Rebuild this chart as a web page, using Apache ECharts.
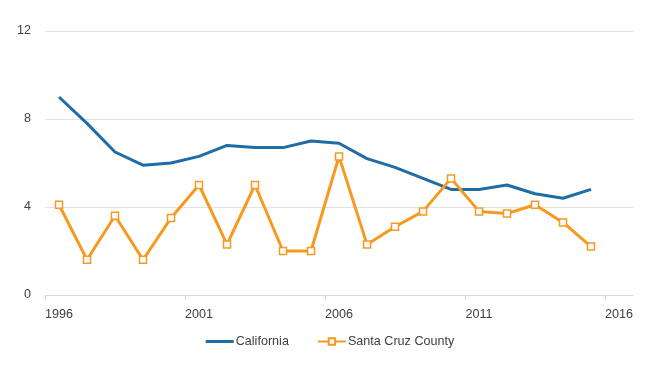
<!DOCTYPE html>
<html>
<head>
<meta charset="utf-8">
<script src="https://cdn.jsdelivr.net/npm/echarts@6/dist/echarts.min.js"></script>
<style>html,body{margin:0;padding:0;background:#fff}#c{width:660px;height:370px}</style>
</head>
<body>
<div id="c"></div>
<script>
var years = ['1996','1997','1998','1999','2000','2001','2002','2003','2004','2005','2006','2007','2008','2009','2010','2011','2012','2013','2014','2015','2016'];
var california = [9.0,7.8,6.5,5.9,6.0,6.3,6.8,6.7,6.7,7.0,6.9,6.2,5.8,5.3,4.8,4.8,5.0,4.6,4.4,4.8];
var santaCruz = [4.1,1.6,3.6,1.6,3.5,5.0,2.3,5.0,2.0,2.0,6.3,2.3,3.1,3.8,5.3,3.8,3.7,4.1,3.3,2.2];
var yTicks = [0,4,8,12];
// category boundaries (one more than categories) used only to place the tick marks
var boundaries = years.concat(['']);

var chart = echarts.init(document.getElementById('c'));
var font = 'Liberation Sans, Arial, sans-serif';
var fs = 12.6;
chart.setOption({
  animation: false,
  textStyle: {fontFamily: font},
  grid: {left: 45, right: 27, top: 31, bottom: 75, containLabel: false},
  legend: {
    bottom: 17,
    left: 'center',
    itemWidth: 28,
    itemHeight: 8,
    itemGap: 28,
    textStyle: {fontFamily: font, fontSize: fs, color: '#404040', padding: [0,0,0,-3]},
    data: [
      {name: 'California', icon: 'path://M0,0L28,0L28,3L0,3Z', itemStyle: {color: '#1f6ca6'}},
      {name: 'Santa Cruz County'}
    ]
  },
  xAxis: [{
    type: 'category',
    position: 'bottom',
    data: years,
    boundaryGap: true,
    axisLine: {lineStyle: {color: '#d9d9d9', width: 1}},
    axisTick: {show: false},
    axisLabel: {interval: 4, color: '#404040', fontSize: fs, fontFamily: font, margin: 13}
  }, {
    type: 'category',
    position: 'bottom',
    data: boundaries,
    boundaryGap: false,
    axisLine: {show: false},
    axisLabel: {show: false},
    splitLine: {show: false},
    axisTick: {show: true, length: 5, interval: function (i) { return i % 5 === 0; }, lineStyle: {color: '#d9d9d9'}}
  }],
  yAxis: {
    type: 'value',
    min: yTicks[0],
    max: yTicks[yTicks.length-1],
    interval: 4,
    axisLine: {show: false},
    axisTick: {show: false},
    splitLine: {lineStyle: {color: '#e3e3e3', width: 1}},
    axisLabel: {color: '#404040', fontSize: fs, fontFamily: font, margin: 14}
  },
  series: [
    {
      name: 'California',
      type: 'line',
      xAxisIndex: 0,
      data: california,
      symbol: 'none',
      lineStyle: {color: '#1f6ca6', width: 3},
      itemStyle: {color: '#1f6ca6'}
    },
    {
      name: 'Santa Cruz County',
      type: 'line',
      xAxisIndex: 0,
      data: santaCruz,
      symbol: 'rect',
      symbolSize: 7,
      lineStyle: {color: '#f8991f', width: 3},
      itemStyle: {color: '#ffffff', borderColor: '#f8991f', borderWidth: 1.5}
    }
  ]
});
</script>
</body>
</html>
